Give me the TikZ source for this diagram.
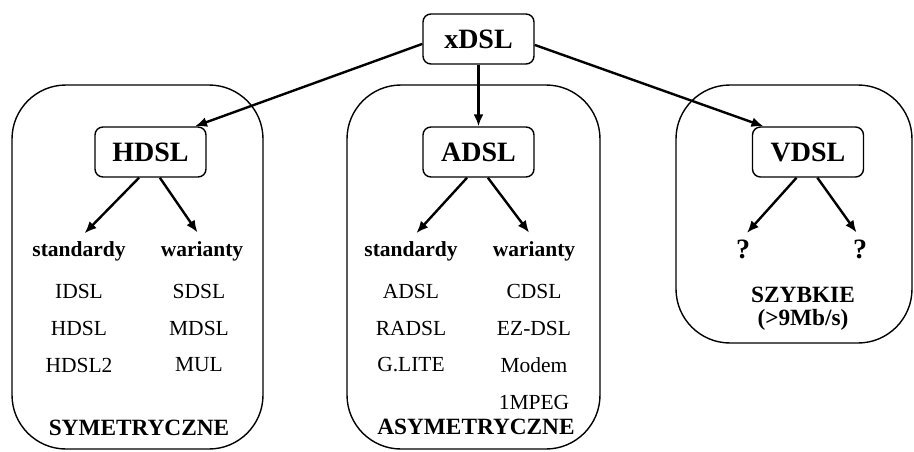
\documentclass[tikz,border=0pt]{standalone}
\usepackage{fontspec}
\setmainfont{Liberation Serif}
\usetikzlibrary{arrows.meta}
\begin{document}
\begin{tikzpicture}[x=1pt, y=-1pt,
    dsl/.style={draw, line width=1.4pt, rounded corners=8pt, minimum width=111pt, minimum height=50pt, font=\fontsize{28}{30}\selectfont\bfseries},
    group/.style={line width=1.4pt, rounded corners=54pt},
    head/.style={inner sep=2pt, font=\fontsize{21.5}{24}\selectfont\bfseries},
    item/.style={inner sep=2pt, font=\fontsize{21.5}{24}\selectfont},
    kind/.style={inner sep=2pt, font=\fontsize{23.3}{25}\selectfont\bfseries},
    arr/.style={line width=2.4pt, -{Latex[length=12pt,width=10pt]}}]
\useasboundingbox (0,0) rectangle (914,452);

\draw[group] (12,85) rectangle (263,449);
\draw[group] (347,85) rectangle (600,449);
\draw[group] (676,85) rectangle (912,343);

\node[dsl] (xdsl) at (478.5,39) {xDSL};
\node[dsl] (hdsl) at (150.5,152) {HDSL};
\node[dsl] (adsl) at (478.5,152) {ADSL};
\node[dsl] (vdsl) at (808,152) {VDSL};

\draw[arr] (xdsl.185) -- (hdsl.30);
\draw[arr] (xdsl) -- (adsl);
\draw[arr] (xdsl.354) -- (vdsl.150);

% symetryczne
\node[head] (hstd) at (79,251) {standardy};
\node[head] (hwar) at (202,251) {warianty};
\draw[arr, shorten >=8pt] (hdsl.246) -- (hstd.north);
\draw[arr, shorten >=8pt] (hdsl.290) -- (hwar.north);
\foreach \t [count=\i] in {IDSL,HDSL,HDSL2}{
    \node[item] (hs\i) at (79,{254+37*\i}) {\t};
}
\foreach \t [count=\i] in {SDSL,MDSL,MUL}{
    \node[item] (hw\i) at (199,{254+37*\i}) {\t};
}
\node[kind] (sym) at (139,428) {SYMETRYCZNE};

% asymetryczne
\node[head] (astd) at (411,251) {standardy};
\node[head] (awar) at (534,251) {warianty};
\draw[arr, shorten >=8pt] (adsl.246) -- (astd.north);
\draw[arr, shorten >=8pt] (adsl.290) -- (awar.north);
\foreach \t [count=\i] in {ADSL,RADSL,G.LITE}{
    \node[item] (as\i) at (411,{254+37*\i}) {\t};
}
\foreach \t [count=\i] in {CDSL,EZ-DSL,Modem,1MPEG}{
    \node[item] (aw\i) at (534,{254+37*\i}) {\t};
}
\node[kind] (asym) at (476,427) {ASYMETRYCZNE};

% szybkie
\node[head, font=\fontsize{28}{30}\selectfont\bfseries] (vq1) at (743,249) {?};
\node[head, font=\fontsize{28}{30}\selectfont\bfseries] (vq2) at (860,249) {?};
\draw[arr, shorten >=6pt] (vdsl.246) -- (vq1.north);
\draw[arr, shorten >=6pt] (vdsl.290) -- (vq2.north);
\node[kind] (fast) at (803,295) {SZYBKIE};
\node[kind] (rate) at (803,320) {(>9Mb/s)};

\end{tikzpicture}
\end{document}
